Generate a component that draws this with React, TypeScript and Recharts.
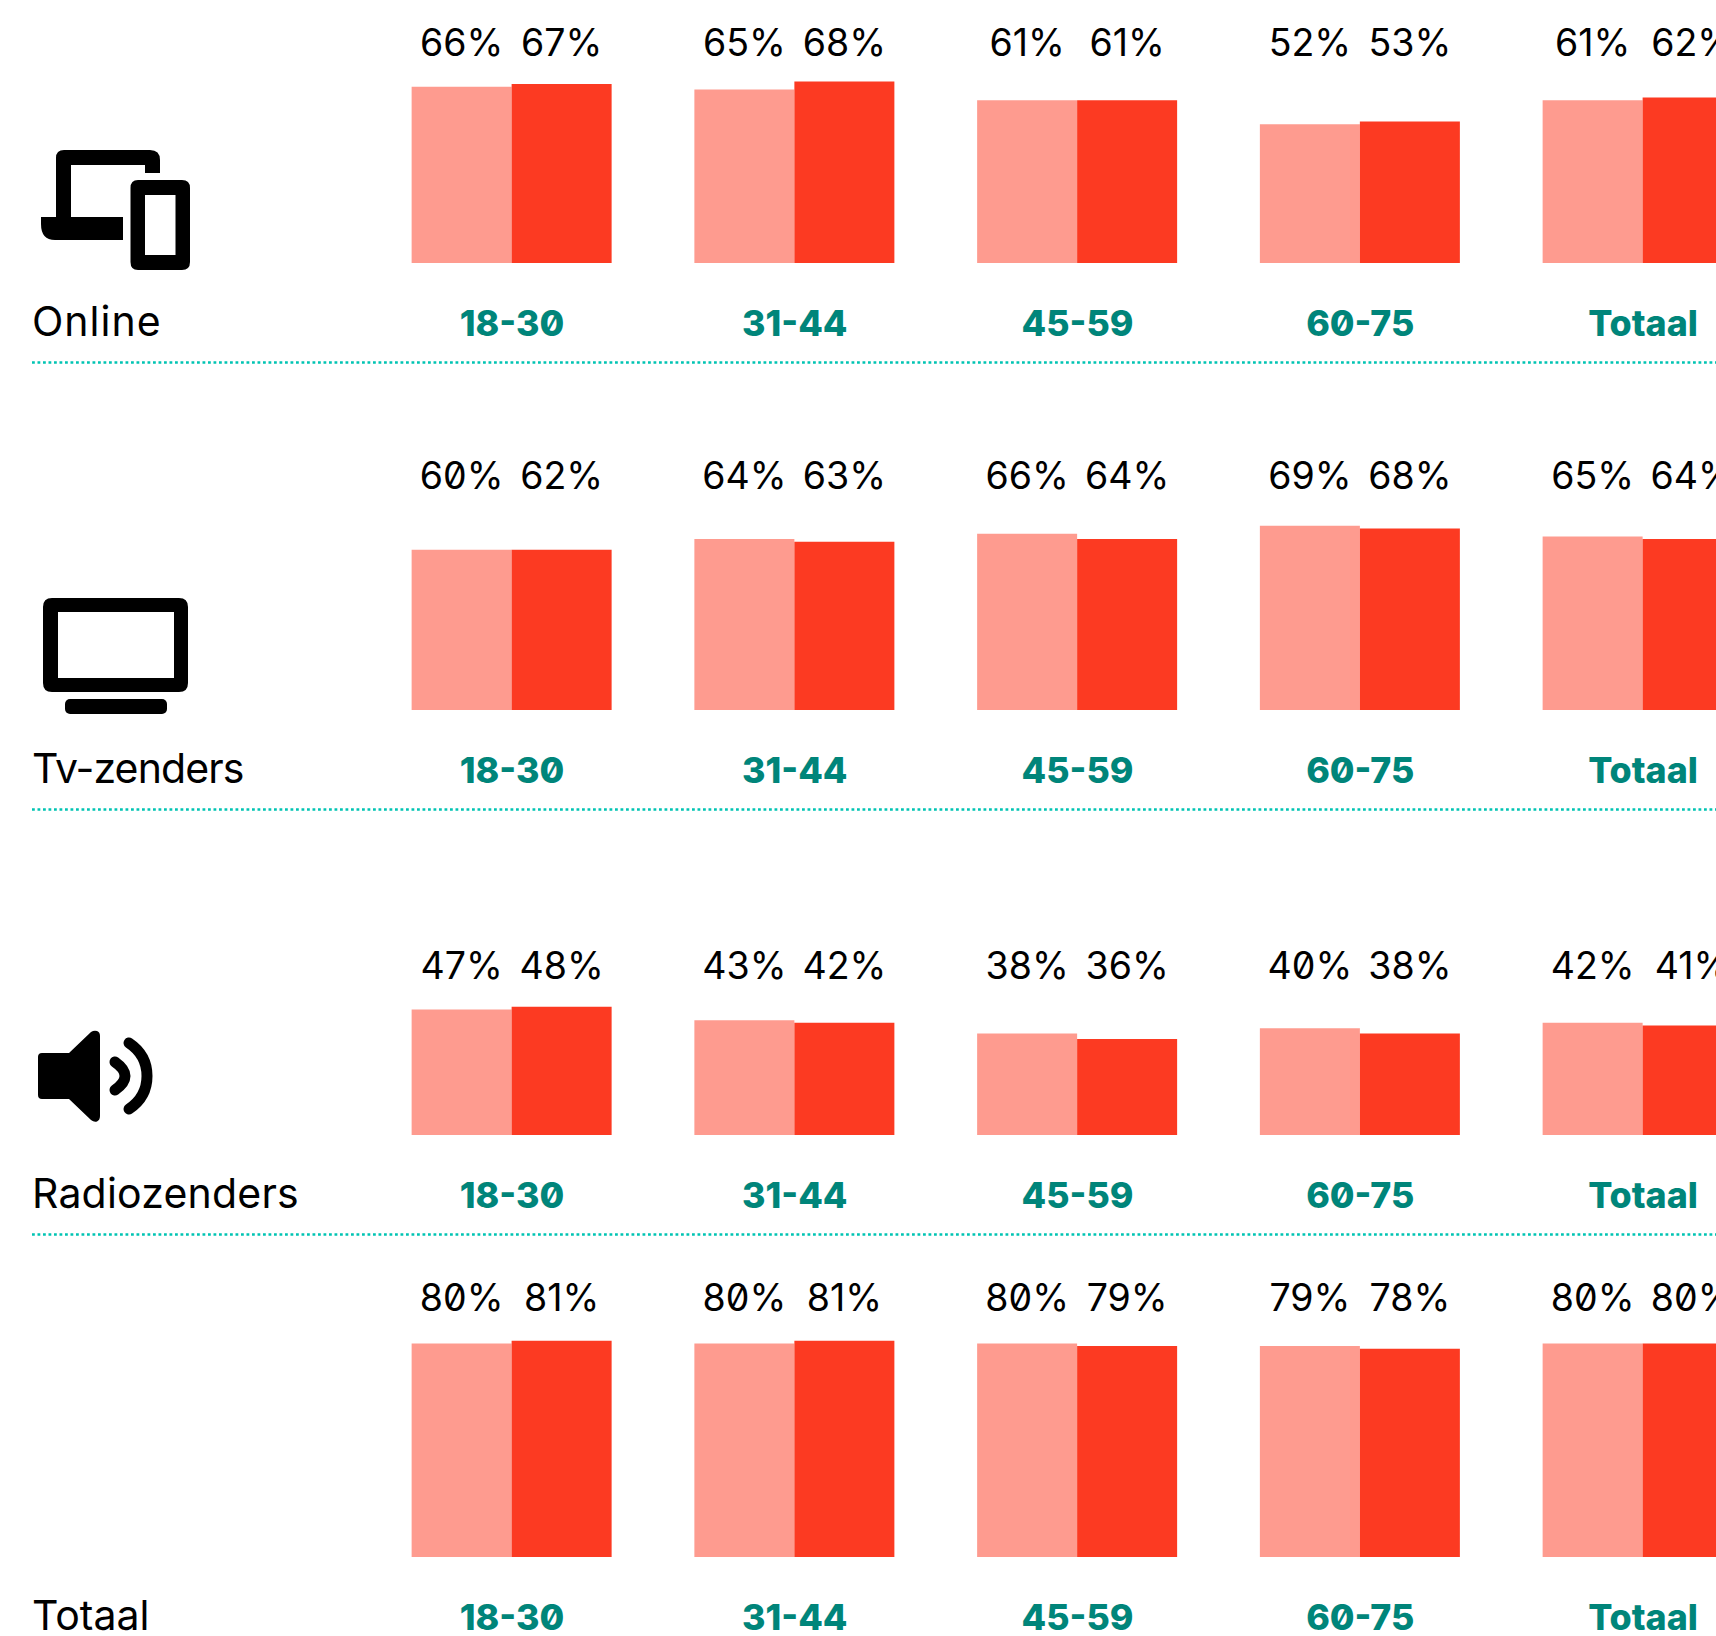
import { Bar, BarChart, LabelList, XAxis, YAxis } from 'recharts';

const ageGroups = ['18-30', '31-44', '45-59', '60-75', 'Totaal'];

const onlineLight = [66, 65, 61, 52, 61];
const onlineDark = [67, 68, 61, 53, 62];
const tvLight = [60, 64, 66, 69, 65];
const tvDark = [60, 63, 64, 68, 64];
// the 18-30 bar is drawn lower than its printed 62%
const tvDarkLabels = [62, 63, 64, 68, 64];
const radioLight = [47, 43, 38, 40, 42];
const radioDark = [48, 42, 36, 38, 41];
const totalLight = [80, 80, 80, 79, 80];
const totalDark = [81, 81, 79, 78, 80];

const FONT = 'Inter, "Noto Sans", sans-serif';
const PINK = '#fe9b8f';
const RED = '#fc3a22';
const TEAL = '#00857a';
const DOTS = '#00c4b3';

const PLOT_HEIGHT = 267;
const TOP_SPACE = 40;

function buildRow(light: number[], dark: number[], darkLabels: number[] = dark) {
  return ageGroups.map((age, i) => ({
    age,
    light: light[i],
    dark: dark[i],
    lightLabel: `${light[i]}%`,
    darkLabel: `${darkLabels[i]}%`,
  }));
}

const rows = [
  { name: 'Online', data: buildRow(onlineLight, onlineDark), base: 263, labelY: 56, tickY: 336, nameY: 336, spacing: 1, line: 362.5 },
  { name: 'Tv-zenders', data: buildRow(tvLight, tvDark, tvDarkLabels), base: 710, labelY: 488.5, tickY: 783, nameY: 783, spacing: -0.9, line: 809.5 },
  { name: 'Radiozenders', data: buildRow(radioLight, radioDark), base: 1135, labelY: 978.5, tickY: 1208, nameY: 1208, spacing: 0.2, line: 1234.5 },
  { name: 'Totaal', data: buildRow(totalLight, totalDark), base: 1557, labelY: 1311, tickY: 1630, nameY: 1630, spacing: 0 },
];

function ValueLabel({ x, width, value, y0 }: any) {
  return (
    <text
      x={x + width / 2}
      y={y0}
      textAnchor="middle"
      fontFamily={FONT}
      fontSize={37.5}
      fill="#000"
      style={{ fontFeatureSettings: '"zero"' }}
    >
      {value}
    </text>
  );
}

function AgeTick({ x, payload, y0 }: any) {
  return (
    <text
      x={x}
      y={y0}
      textAnchor="middle"
      fontFamily={FONT}
      fontSize={35.8}
      fontWeight={800}
      fill={TEAL}
      style={{ fontFeatureSettings: '"zero"' }}
    >
      {payload.value}
    </text>
  );
}

function Row({ row }: { row: (typeof rows)[number] }) {
  const top = row.base - PLOT_HEIGHT - TOP_SPACE;
  return (
    <div style={{ position: 'absolute', left: 0, top }}>
      <BarChart
        width={1784.375}
        height={TOP_SPACE + PLOT_HEIGHT + 90}
        data={row.data}
        margin={{ top: TOP_SPACE, right: 0, bottom: 0, left: 370.625 }}
        barSize={100}
        barGap={0}
      >
        <XAxis
          dataKey="age"
          axisLine={false}
          tickLine={false}
          height={90}
          interval={0}
          tick={<AgeTick y0={row.tickY - top} />}
        />
        <YAxis hide domain={[0, 100]} />
        <Bar dataKey="light" fill={PINK} isAnimationActive={false}>
          <LabelList
            dataKey="lightLabel"
            content={(p: any) => <ValueLabel {...p} y0={row.labelY - top} />}
          />
        </Bar>
        <Bar dataKey="dark" fill={RED} isAnimationActive={false}>
          <LabelList
            dataKey="darkLabel"
            content={(p: any) => <ValueLabel {...p} y0={row.labelY - top} />}
          />
        </Bar>
      </BarChart>
    </div>
  );
}

function Overlay() {
  return (
    <svg
      width={1716}
      height={1636}
      style={{ position: 'absolute', left: 0, top: 0 }}
      fontFamily={FONT}
      fontSize={41}
    >
      {rows.map((r) => (
        <text key={r.name} x={32} y={r.nameY} fill="#000" letterSpacing={r.spacing}>
          {r.name}
        </text>
      ))}
      {rows.map((r) =>
        r.line ? (
          <line
            key={r.name}
            x1={32}
            x2={1716}
            y1={r.line}
            y2={r.line}
            stroke={DOTS}
            strokeWidth={2.6}
            strokeDasharray="2.8 2.7"
          />
        ) : null
      )}
      {/* laptop + phone */}
      <path
        fillRule="evenodd"
        d="M64 150H150Q160 150 160 160V173H145V165H71V217H123V240H55Q41 240 41 224V217H56V158Q56 150 64 150Z"
      />
      <path
        fillRule="evenodd"
        d="M138 180H182Q190 180 190 188V262Q190 270 182 270H138Q130.5 270 130.5 262V188Q130.5 180 138 180ZM145 195V255H175.5V195Z"
      />
      {/* tv */}
      <path
        fillRule="evenodd"
        d="M52 598H179Q188 598 188 607V683Q188 692 179 692H52Q43 692 43 683V607Q43 598 52 598ZM58 612V678H174V612Z"
      />
      <rect x={65} y={699} width={102} height={15} rx={5} />
      {/* speaker */}
      <path d="M42 1053H69L91 1032Q94 1030 97 1031Q100 1032 100 1036V1116Q100 1120 97 1121.500Q94 1122.500 91 1120L69 1099H42Q38 1099 38 1095V1057Q38 1053 42 1053Z" />
      <path
        d="M115 1062Q125 1069 125 1076Q125 1083 115 1090"
        fill="none"
        stroke="#000"
        strokeWidth={11}
        strokeLinecap="round"
      />
      <path
        d="M129 1043Q147 1055 147 1076Q147 1097 129 1109"
        fill="none"
        stroke="#000"
        strokeWidth={11}
        strokeLinecap="round"
      />
    </svg>
  );
}

export default function App() {
  return (
    <div
      style={{
        position: 'absolute',
        left: 0,
        top: 0,
        width: 1716,
        height: 1636,
        overflow: 'hidden',
        background: '#fff',
      }}
    >
      <Overlay />
      {rows.map((r) => (
        <Row key={r.name} row={r} />
      ))}
    </div>
  );
}
